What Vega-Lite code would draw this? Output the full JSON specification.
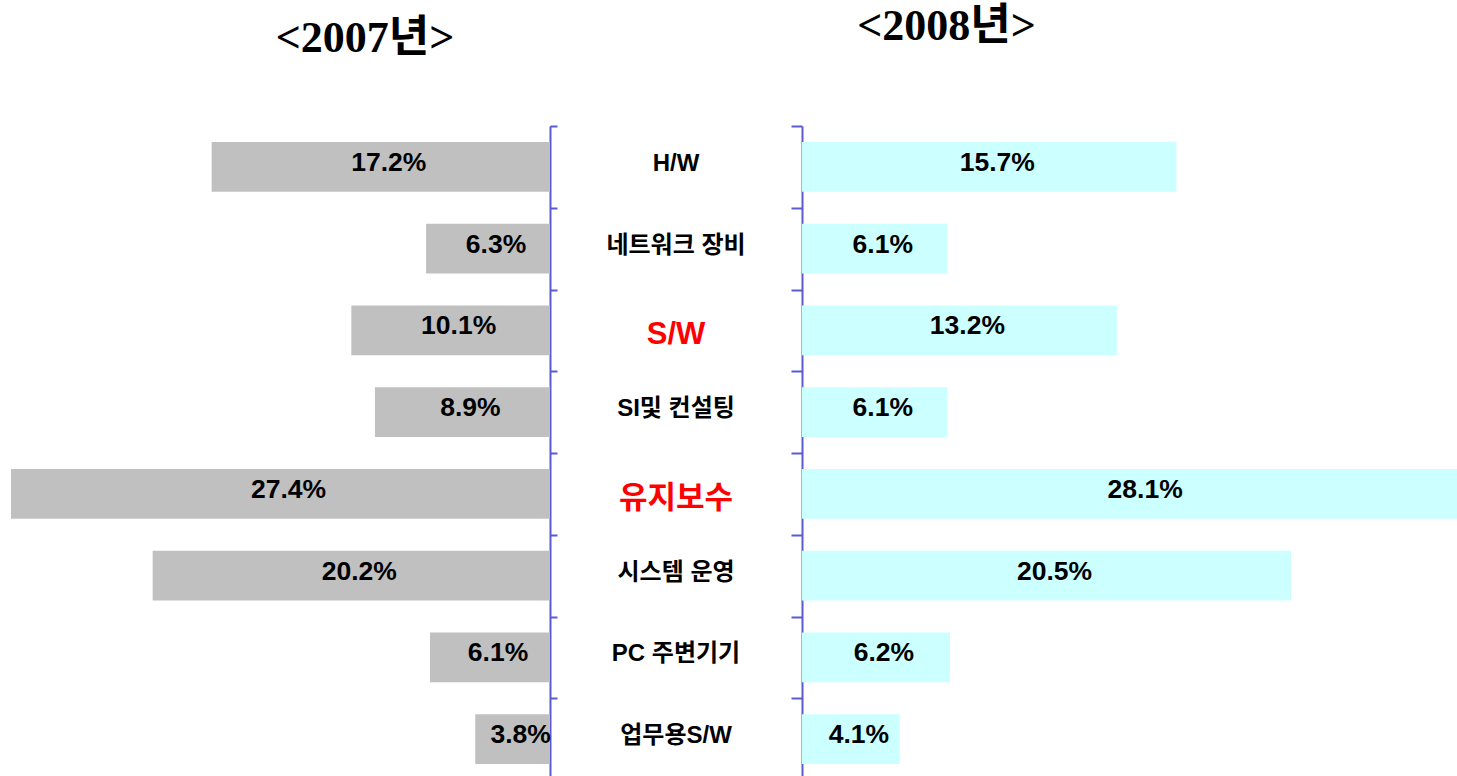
{
  "$schema": "https://vega.github.io/schema/vega-lite/v6.json",
  "padding": {"left": 0, "top": 5, "right": 0, "bottom": 0},
  "background": "white",
  "config": {"view": {"stroke": null}, "concat": {"spacing": 0}},
  "bounds": "flush",
  "spacing": 0,
  "data": {"values": [
    {"category": "H/W", "y2007": 0.172, "y2008": 0.157},
    {"category": "네트워크 장비", "y2007": 0.063, "y2008": 0.061},
    {"category": "S/W", "y2007": 0.101, "y2008": 0.132},
    {"category": "SI및 컨설팅", "y2007": 0.089, "y2008": 0.061},
    {"category": "유지보수", "y2007": 0.274, "y2008": 0.281},
    {"category": "시스템 운영", "y2007": 0.202, "y2008": 0.205},
    {"category": "PC 주변기기", "y2007": 0.061, "y2008": 0.062},
    {"category": "업무용S/W", "y2007": 0.038, "y2008": 0.041}
  ]},
  "hconcat": [
    {
      "width": 550,
      "height": 654,
      "title": {"text": "<2007년>", "font": "Liberation Serif, Noto Sans CJK KR", "fontSize": 44, "fontWeight": "bold", "color": "black", "anchor": "middle", "dx": 90, "offset": 29, "baseline": "alphabetic"},
      "layer": [
        {
          "mark": {"type": "bar", "color": "#C0C0C0", "height": {"band": 0.61}},
          "encoding": {
            "y": {"field": "category", "type": "nominal", "sort": null,
              "scale": {"domain": ["H/W", "네트워크 장비", "S/W", "SI및 컨설팅", "유지보수", "시스템 운영", "PC 주변기기", "업무용S/W"], "paddingInner": 0, "paddingOuter": 0},
              "axis": {"orient": "right", "labels": false, "title": null, "tickBand": "extent", "domainColor": "#5A5AD2", "domainWidth": 2, "tickColor": "#5A5AD2", "tickWidth": 2, "tickSize": 7, "grid": false}},
            "x": {"field": "y2007", "type": "quantitative", "scale": {"domain": [0, 0.2796], "reverse": true, "nice": false, "zero": true}, "axis": null}
          }
        },
        {
          "mark": {"type": "text", "font": "Liberation Sans", "fontSize": 26.5, "fontWeight": "bold", "color": "black", "dx": 8, "dy": -4, "baseline": "middle", "align": "center"},
          "encoding": {
            "y": {"field": "category", "type": "nominal", "sort": null},
            "x": {"field": "y2007", "type": "quantitative", "scale": {"domain": [0, 0.5592], "reverse": true, "nice": false}, "axis": null},
            "text": {"field": "y2007", "type": "quantitative", "format": ".1%"}
          }
        }
      ],
      "resolve": {"scale": {"x": "independent"}}
    },
    {
      "width": 252,
      "height": 654,
      "layer": [
        {
          "transform": [{"filter": {"not": {"field": "category", "oneOf": ["S/W", "유지보수"]}}}],
          "mark": {"type": "text", "font": "Liberation Sans, Noto Sans CJK KR", "fontSize": 24, "fontWeight": "bold", "color": "black", "dy": -3, "baseline": "middle", "align": "center"},
          "encoding": {
            "y": {"field": "category", "type": "nominal", "sort": null,
              "scale": {"domain": ["H/W", "네트워크 장비", "S/W", "SI및 컨설팅", "유지보수", "시스템 운영", "PC 주변기기", "업무용S/W"], "paddingInner": 0, "paddingOuter": 0},
              "axis": null},
            "text": {"field": "category", "type": "nominal"}
          }
        },
        {
          "transform": [{"filter": {"field": "category", "oneOf": ["S/W", "유지보수"]}}],
          "mark": {"type": "text", "font": "Liberation Sans, Noto Sans CJK KR", "fontSize": 31, "fontWeight": "bold", "color": "#FF0000", "dy": 5, "baseline": "middle", "align": "center"},
          "encoding": {
            "y": {"field": "category", "type": "nominal", "sort": null},
            "text": {"field": "category", "type": "nominal"}
          }
        }
      ]
    },
    {
      "width": 655,
      "height": 654,
      "title": {"text": "<2008년>", "font": "Liberation Serif, Noto Sans CJK KR", "fontSize": 44, "fontWeight": "bold", "color": "black", "anchor": "middle", "dx": -183, "offset": 41, "baseline": "alphabetic"},
      "layer": [
        {
          "mark": {"type": "bar", "color": "#CCFFFF", "clip": true, "height": {"band": 0.61}},
          "encoding": {
            "y": {"field": "category", "type": "nominal", "sort": null,
              "scale": {"domain": ["H/W", "네트워크 장비", "S/W", "SI및 컨설팅", "유지보수", "시스템 운영", "PC 주변기기", "업무용S/W"], "paddingInner": 0, "paddingOuter": 0},
              "axis": {"orient": "left", "labels": false, "title": null, "tickBand": "extent", "domainColor": "#5A5AD2", "domainWidth": 2, "tickColor": "#5A5AD2", "tickWidth": 2, "tickSize": 11, "grid": false}},
            "x": {"field": "y2008", "type": "quantitative", "scale": {"domain": [0, 0.2746], "nice": false, "zero": true}, "axis": null}
          }
        },
        {
          "mark": {"type": "text", "font": "Liberation Sans", "fontSize": 26.5, "fontWeight": "bold", "color": "black", "dx": 8, "dy": -4, "baseline": "middle", "align": "center"},
          "encoding": {
            "y": {"field": "category", "type": "nominal", "sort": null},
            "x": {"field": "y2008", "type": "quantitative", "scale": {"domain": [0, 0.5492], "nice": false}, "axis": null},
            "text": {"field": "y2008", "type": "quantitative", "format": ".1%"}
          }
        }
      ],
      "resolve": {"scale": {"x": "independent"}}
    }
  ]
}
